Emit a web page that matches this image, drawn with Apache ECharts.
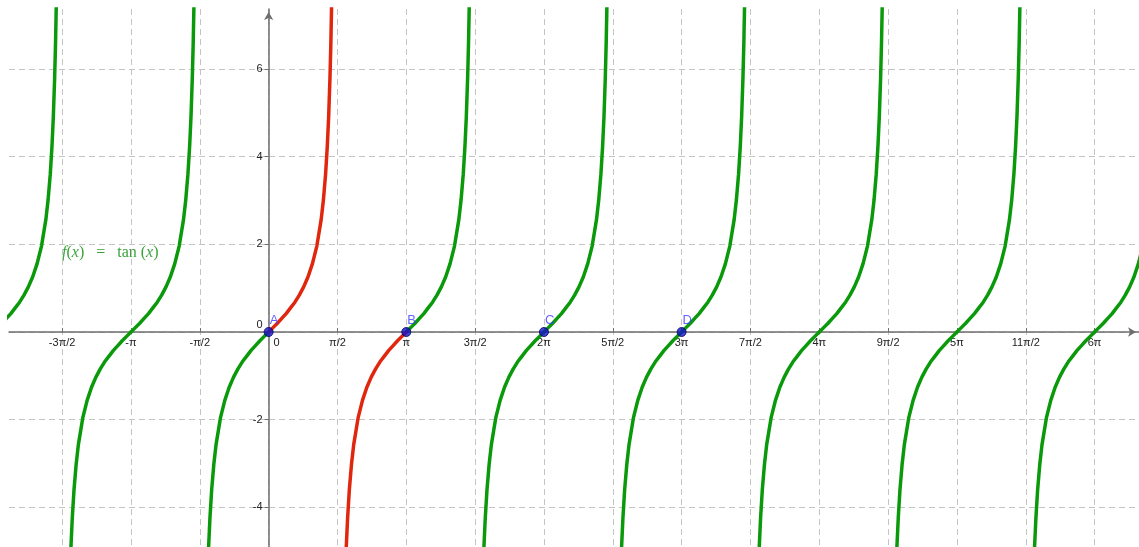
<!DOCTYPE html>
<html><head><meta charset="utf-8">
<script src="https://cdn.jsdelivr.net/npm/echarts@6/dist/echarts.min.js"></script>
<style>html,body{margin:0;padding:0;background:#fff}#c{width:1139px;height:547px}</style>
</head><body><div id="c"></div>
<script>
const PI = Math.PI;
// branches of f(x) = tan(x), centred on k*pi
const branchCentersPi = [-2, -1, 0, 1, 2, 3, 4, 5, 6];
// one branch: offset from centre (rad) and value
const branchOffsets = [-1.46, -1.44, -1.42, -1.40, -1.37, -1.34, -1.30, -1.25, -1.20, -1.10, -1.00, -0.90, -0.80, -0.70, -0.60, -0.50, -0.40, -0.30, -0.20, -0.10, 0,
  0.10, 0.20, 0.30, 0.40, 0.50, 0.60, 0.70, 0.80, 0.90, 1.00, 1.10, 1.20, 1.25, 1.30, 1.34, 1.37, 1.40, 1.42, 1.44, 1.46];
const branchValues = [-8.98, -7.60, -6.58, -5.80, -4.91, -4.26, -3.60, -3.01, -2.57, -1.96, -1.56, -1.26, -1.03, -0.84, -0.68, -0.55, -0.42, -0.31, -0.20, -0.10, 0,
  0.10, 0.20, 0.31, 0.42, 0.55, 0.68, 0.84, 1.03, 1.26, 1.56, 1.96, 2.57, 3.01, 3.60, 4.26, 4.91, 5.80, 6.58, 7.60, 8.98];
// highlighted (red) part, in multiples of pi
const redRangePi = [0, 1];
const xTickHalfPi = [-3, -2, -1, 0, 1, 2, 3, 4, 5, 6, 7, 8, 9, 10, 11, 12];
const xTickLabels = ['-3π/2', '-π', '-π/2', '0', 'π/2', 'π', '3π/2', '2π', '5π/2', '3π', '7π/2', '4π', '9π/2', '5π', '11π/2', '6π'];
const yTicks = [-4, -2, 0, 2, 4, 6];
const yTickLabels = ['-4', '-2', '0', '2', '4', '6'];
const pointNames = ['A', 'B', 'C', 'D'];
const pointXPi = [0, 1, 2, 3];
const pointY = [0, 0, 0, 0];

const X_MIN = -5.925, X_MAX = 19.863, Y_MIN = -4.905, Y_MAX = 7.369;
const GRID = { left: 9, top: 9, right: 0, bottom: 0 };
const W = 1139 - GRID.left - GRID.right, H = 547 - GRID.top - GRID.bottom;
const GREEN = '#0a990a', RED = '#e0260c';
const FONT = 'Liberation Sans';

const greenSeries = [], redSeries = [];
branchCentersPi.forEach(c => {
  ['left', 'right'].forEach(half => {
    const data = [];
    branchOffsets.forEach((u, i) => {
      if ((half === 'left' && u <= 0) || (half === 'right' && u >= 0)) {
        data.push([c * PI + u, branchValues[i]]);
      }
    });
    const mid = c + (half === 'left' ? -0.25 : 0.25);
    const red = mid > redRangePi[0] && mid < redRangePi[1];
    (red ? redSeries : greenSeries).push({
      type: 'line', data, showSymbol: false, symbol: 'none', silent: true,
      lineStyle: { color: red ? RED : GREEN, width: 3.5, cap: 'round' },
      z: red ? 4 : 3
    });
  });
});

// place axes where the other axis is zero
const xAxisOffset = -H * (0 - Y_MIN) / (Y_MAX - Y_MIN);
const yAxisOffset = -W * (0 - X_MIN) / (X_MAX - X_MIN);

const chart = echarts.init(document.getElementById('c'));
chart.setOption({
  animation: false,
  backgroundColor: '#fff',
  grid: Object.assign({ containLabel: false, outerBoundsMode: 'none' }, GRID),
  xAxis: {
    type: 'value', min: X_MIN, max: X_MAX, position: 'bottom', offset: xAxisOffset,
    axisLine: { show: true, onZero: false, symbol: ['none', 'arrow'], symbolSize: [7, 8], symbolOffset: [0, -3],
      lineStyle: { color: '#6e6e6e', width: 1.5 } },
    axisTick: { show: true, inside: true, length: 4, customValues: xTickHalfPi.map(k => k * PI / 2),
      lineStyle: { color: '#6e6e6e', width: 1 } },
    axisLabel: {
      show: true, margin: 5, customValues: xTickHalfPi.map(k => k * PI / 2),
      color: '#222', fontSize: 11, fontFamily: FONT,
      formatter: v => {
        const k = Math.round(v / (PI / 2));
        const s = xTickLabels[xTickHalfPi.indexOf(k)];
        return k === 0 ? '{z|' + s + '}' : s;
      },
      rich: { z: { padding: [0, 0, 0, 16], color: '#222', fontSize: 11, fontFamily: FONT } }
    },
    splitLine: { show: true, lineStyle: { color: '#c4c4c4', type: [6, 4], width: 1 } }
  },
  yAxis: {
    type: 'value', min: Y_MIN, max: Y_MAX, position: 'left', offset: yAxisOffset,
    axisLine: { show: true, onZero: false, symbol: ['none', 'arrow'], symbolSize: [7, 8], symbolOffset: [0, -3],
      lineStyle: { color: '#6e6e6e', width: 1.5 } },
    axisTick: { show: true, inside: false, length: 4, customValues: yTicks,
      lineStyle: { color: '#6e6e6e', width: 1 } },
    axisLabel: {
      show: true, margin: 6, customValues: yTicks,
      color: '#222', fontSize: 11, fontFamily: FONT,
      formatter: v => {
        const s = yTickLabels[yTicks.indexOf(Math.round(v))];
        return v === 0 ? '{z|' + s + '}' : s;
      },
      rich: { z: { padding: [0, 0, 14, 0], color: '#222', fontSize: 11, fontFamily: FONT } }
    },
    splitLine: { show: true, lineStyle: { color: '#c4c4c4', type: [6, 4], width: 1 } }
  },
  graphic: [{
    type: 'text', left: 62, top: 245, silent: true,
    style: {
      text: '{i|f}({i|x})   =   tan ({i|x})',
      fill: '#3aa33a', font: '16px "Liberation Serif"',
      rich: { i: { fontStyle: 'italic', fill: '#3aa33a', fontSize: 16, fontFamily: 'Liberation Serif' } }
    }
  }],
  series: [
    ...greenSeries, ...redSeries,
    {
      type: 'scatter', z: 6, silent: true,
      data: pointNames.map((n, i) => ({ name: n, value: [pointXPi[i] * PI, pointY[i]] })),
      symbol: 'circle', symbolSize: 9,
      itemStyle: { color: '#1414c8', borderColor: '#000060', borderWidth: 1 },
      label: { show: true, formatter: p => p.name, position: [6, -13], color: '#3c3cff', fontSize: 13, fontFamily: FONT }
    }
  ]
});
</script></body></html>
